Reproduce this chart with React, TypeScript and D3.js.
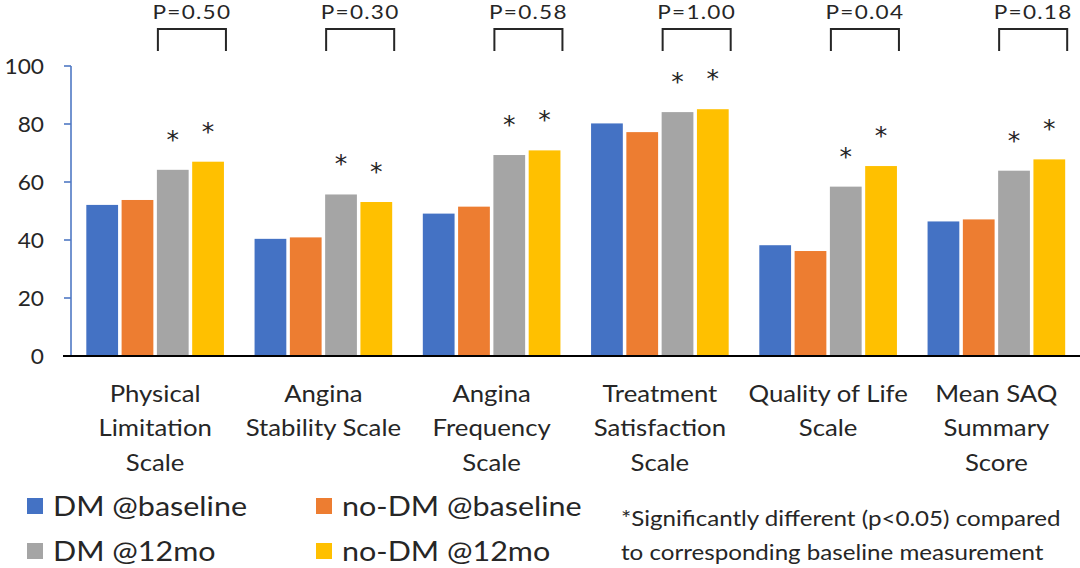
import React from "react";
import * as d3 from "d3";

// Seattle Angina Questionnaire domains, DM vs no-DM, baseline and 12 months
const categories = [
  "Physical Limitation Scale",
  "Angina Stability Scale",
  "Angina Frequency Scale",
  "Treatment Satisfaction Scale",
  "Quality of Life Scale",
  "Mean SAQ Summary Score",
];
const categoryLines = [
  ["Physical", "Limitation", "Scale"],
  ["Angina", "Stability Scale"],
  ["Angina", "Frequency", "Scale"],
  ["Treatment", "Satisfaction", "Scale"],
  ["Quality of Life", "Scale"],
  ["Mean SAQ", "Summary", "Score"],
];
const seriesNames = ["DM @baseline", "no-DM @baseline", "DM @12mo", "no-DM @12mo"];
const seriesColors = ["#4472C4", "#ED7D31", "#A5A5A5", "#FFC000"];
const dmBaseline = [52.1, 40.4, 49.1, 80.2, 38.2, 46.4];
const noDmBaseline = [53.8, 40.9, 51.5, 77.2, 36.2, 47.1];
const dm12mo = [64.2, 55.7, 69.3, 84.1, 58.4, 63.9];
const noDm12mo = [67.0, 53.1, 70.9, 85.1, 65.5, 67.8];
// which series carry a "*" (significant vs. own baseline)
const starred = [false, false, true, true];
const pLabels = ["P=0.50", "P=0.30", "P=0.58", "P=1.00", "P=0.04", "P=0.18"];
const yTicks = [0, 20, 40, 60, 80, 100];
const footnote = [
  "*Significantly different (p<0.05) compared",
  "to corresponding baseline measurement",
];

const series = [dmBaseline, noDmBaseline, dm12mo, noDm12mo];

const W = 1080;
const H = 568;
const FONT = "Lato, 'Open Sans', sans-serif";
const INK = "#262626";

// Text drawn with a slight horizontal stretch (wide-set lettering)
function WideText({
  x,
  y,
  sx = 1.13,
  children,
  ...rest
}: {
  x: number;
  y: number;
  sx?: number;
  children: React.ReactNode;
  [k: string]: any;
}) {
  return (
    <g transform={`translate(${x},${y}) scale(${sx},1)`}>
      <text x={0} y={0} fill={INK} {...rest}>
        {children}
      </text>
    </g>
  );
}

export default function App() {
  const axisX = 71;
  const x = d3
    .scaleBand<string>()
    .domain(categories)
    .range([axisX, W + 0.5])
    .paddingInner(0.182)
    .paddingOuter(0.091);
  const xs = d3
    .scaleBand<string>()
    .domain(seriesNames)
    .range([0, x.bandwidth()])
    .paddingInner(0.1)
    .paddingOuter(0);
  const y = d3.scaleLinear().domain([0, 100]).range([356, 66]);

  return (
    <svg
      width={W}
      height={H}
      viewBox={`0 0 ${W} ${H}`}
      style={{ position: "absolute", left: 0, top: 0, background: "#fff" }}
      fontFamily={FONT}
    >
      <rect x={0} y={0} width={W} height={H} fill="#fff" />

      {/* y axis */}
      <line x1={axisX} x2={axisX} y1={y(100)} y2={y(0)} stroke="#4F78C4" strokeWidth={1.6} />
      {yTicks.map((t) => (
        <g key={t}>
          <line x1={axisX - 7} x2={axisX} y1={y(t)} y2={y(t)} stroke="#4F78C4" strokeWidth={1.6} />
          <WideText x={44} y={y(t)} sx={1.08} dy="0.36em" textAnchor="end" fontSize={21}>
            {t}
          </WideText>
        </g>
      ))}

      {/* bars */}
      {categories.map((c, ci) => (
        <g key={c} transform={`translate(${x(c)},0)`}>
          {series.map((vals, si) => (
            <rect
              key={si}
              x={xs(seriesNames[si])}
              y={y(vals[ci])}
              width={xs.bandwidth()}
              height={y(0) - y(vals[ci])}
              fill={seriesColors[si]}
            />
          ))}
          {series.map((vals, si) =>
            starred[si] ? (
              <text
                key={"s" + si}
                x={(xs(seriesNames[si]) as number) + xs.bandwidth() / 2}
                y={y(vals[ci]) - 35}
                dy="0.52em"
                textAnchor="middle"
                fontSize={25}
                fontFamily="'DejaVu Sans', sans-serif"
                fill={INK}
              >
                *
              </text>
            ) : null
          )}
          {/* bracket between 12-month bars */}
          {(() => {
            const x0 = (xs(seriesNames[2]) as number) + 1;
            const x1 = (xs(seriesNames[3]) as number) + xs.bandwidth() + 2;
            return (
              <g>
                <path
                  d={`M${x0},51 V29 H${x1} V51`}
                  fill="none"
                  stroke={INK}
                  strokeWidth={2}
                />
                <WideText
                  x={(x0 + x1) / 2}
                  y={18.5}
                  textAnchor="middle"
                  fontSize={20}
                  letterSpacing={1.1}
                >
                  {pLabels[ci]}
                </WideText>
              </g>
            );
          })()}
          {/* category label */}
          {categoryLines[ci].map((line, li) => (
            <WideText
              key={"l" + li}
              x={x.bandwidth() / 2}
              y={401.5 + li * 34.5}
              sx={1.12}
              textAnchor="middle"
              fontSize={23}
            >
              {line}
            </WideText>
          ))}
        </g>
      ))}

      {/* x axis */}
      <line x1={63} x2={W} y1={y(0)} y2={y(0)} stroke="#000" strokeWidth={2} />

      {/* legend */}
      {seriesNames.map((name, i) => {
        const col = i % 2;
        const row = Math.floor(i / 2);
        const lx = col === 0 ? 27 : 316;
        const ly = 498 + row * 45;
        return (
          <g key={name}>
            <rect x={lx} y={ly} width={16} height={16} fill={seriesColors[i]} />
            <WideText x={lx + 26} y={ly + 18} sx={1.13} fontSize={27}>
              {name}
            </WideText>
          </g>
        );
      })}

      {/* footnote */}
      {footnote.map((line, i) => (
        <WideText key={i} x={621} y={526 + i * 34} sx={1.15} fontSize={21}>
          {line}
        </WideText>
      ))}
    </svg>
  );
}
